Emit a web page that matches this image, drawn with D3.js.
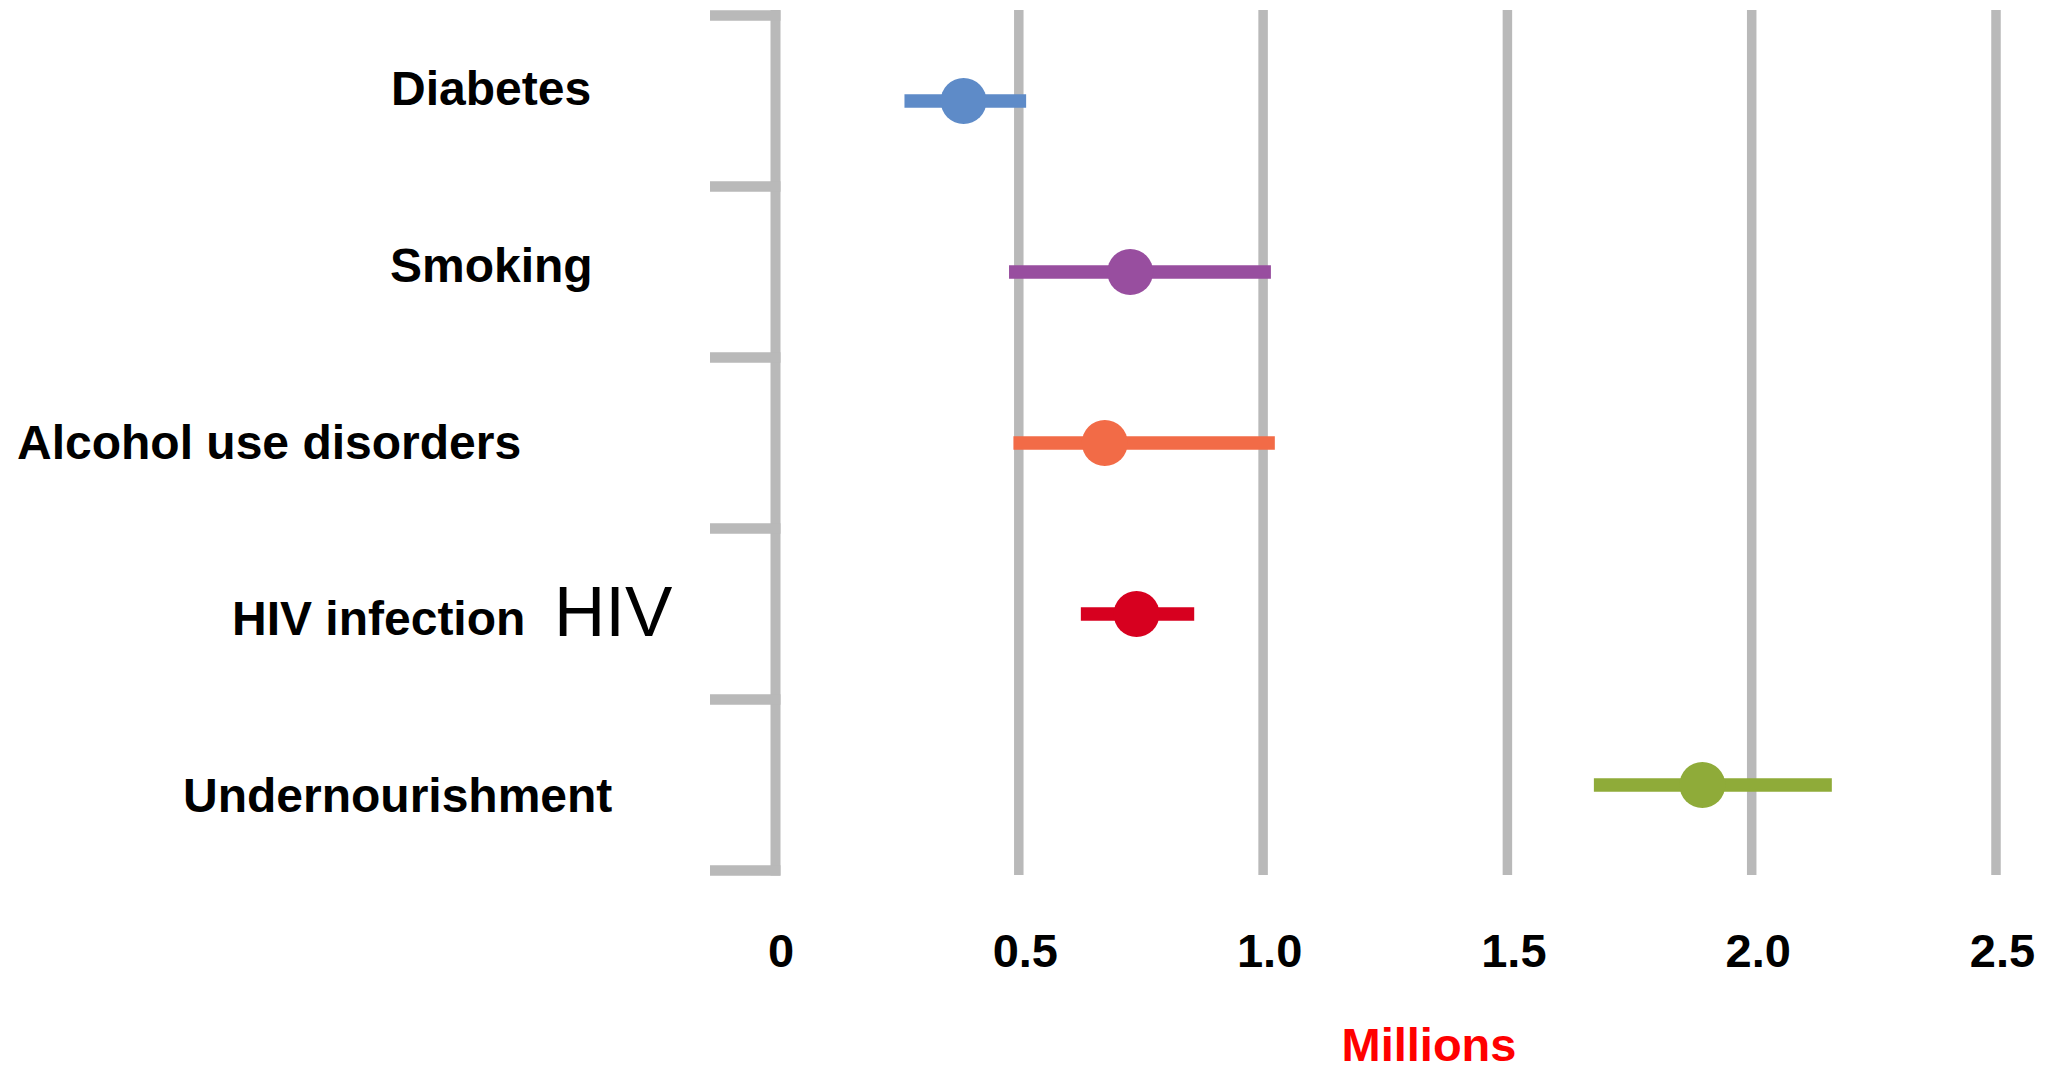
<!DOCTYPE html>
<html>
<head>
<meta charset="utf-8">
<script src="https://cdn.jsdelivr.net/npm/d3@7"></script>
<style>
  html, body { margin: 0; padding: 0; background: #ffffff; }
  svg { display: block; }
  text { font-family: "Liberation Sans", Arial, Helvetica, sans-serif; }
</style>
</head>
<body>
<svg id="chart" width="2050" height="1070"></svg>
<script>
// Risk factors and estimated attributable cases (millions): point estimate with uncertainty range
const categories = ["Diabetes", "Smoking", "Alcohol use disorders", "HIV infection", "Undernourishment"];
const estimates  = [0.387, 0.728, 0.676, 0.741, 1.899];
const lowerBound = [0.266, 0.480, 0.489, 0.627, 1.677];
const upperBound = [0.515, 1.016, 1.024, 0.859, 2.164];
const colors     = ["#5e8bc8", "#984e9f", "#f26b47", "#d7001f", "#8fab39"];
const tickValues = [0, 0.5, 1.0, 1.5, 2.0, 2.5];
const tickLabels = ["0", "0.5", "1.0", "1.5", "2.0", "2.5"];
const axisTitle  = "Millions";
const noteText   = "HIV";

// Layout
const labelLeft = { "Diabetes": 391, "Smoking": 390, "Alcohol use disorders": 17, "HIV infection": 232, "Undernourishment": 183 };
const GRID = "#b9b9b9";

const rows = categories.map((c, i) => ({
  name: c, est: estimates[i], lo: lowerBound[i], hi: upperBound[i], color: colors[i]
}));

const svg = d3.select("#chart");

const x = d3.scaleLinear().domain([0, 2.5]).range([774.5, 1996]);
const y = d3.scaleBand().domain(categories).range([15.5, 870.5]).paddingInner(0).paddingOuter(0);
const labelY = d3.scalePoint().domain(categories).range([105, 812]);

// Vertical gridlines at each non-zero tick
svg.append("g")
  .selectAll("line")
  .data(tickValues.filter(v => v > 0))
  .join("line")
  .attr("x1", d => x(d)).attr("x2", d => x(d))
  .attr("y1", 10).attr("y2", 875)
  .attr("stroke", GRID)
  .attr("stroke-width", 9.5);

// Category axis: vertical line at zero with ticks at band boundaries
const yAxis = svg.append("g");
yAxis.append("line")
  .attr("x1", x(0) + 1).attr("x2", x(0) + 1)
  .attr("y1", 10).attr("y2", 875.5)
  .attr("stroke", GRID)
  .attr("stroke-width", 10);
const boundaries = d3.range(categories.length + 1).map(i => y.range()[0] + i * y.step());
yAxis.selectAll("line.tick")
  .data(boundaries)
  .join("line")
  .attr("class", "tick")
  .attr("x1", 710).attr("x2", x(0) + 6)
  .attr("y1", d => d).attr("y2", d => d)
  .attr("stroke", GRID)
  .attr("stroke-width", 10.5);

// Category labels
svg.append("g")
  .selectAll("text")
  .data(categories)
  .join("text")
  .attr("x", d => labelLeft[d])
  .attr("y", d => labelY(d))
  .attr("font-size", 48)
  .attr("font-weight", "bold")
  .attr("fill", "#000")
  .text(d => d);

// Annotation beside the HIV row
svg.append("text")
  .attr("x", 554)
  .attr("y", 636)
  .attr("font-size", 71)
  .attr("font-weight", "normal")
  .attr("fill", "#000")
  .text(noteText);

// Uncertainty intervals and point estimates
const marks = svg.append("g")
  .selectAll("g")
  .data(rows)
  .join("g")
  .attr("transform", d => `translate(0,${y(d.name) + y.bandwidth() / 2})`);

marks.append("line")
  .attr("x1", d => x(d.lo)).attr("x2", d => x(d.hi))
  .attr("y1", 0).attr("y2", 0)
  .attr("stroke", d => d.color)
  .attr("stroke-width", 13.5)
  .attr("stroke-linecap", "butt");

marks.append("circle")
  .attr("cx", d => x(d.est))
  .attr("cy", 0)
  .attr("r", 23)
  .attr("fill", d => d.color);

// Value axis labels
const xAxis = d3.axisBottom(x)
  .tickValues(tickValues)
  .tickFormat((d, i) => tickLabels[i])
  .tickSize(0)
  .tickPadding(0);

const xg = svg.append("g")
  .attr("transform", "translate(0,967)")
  .call(xAxis);
xg.select(".domain").remove();
xg.selectAll("text")
  .attr("dy", 0)
  .attr("dx", 6)
  .attr("font-family", "\"Liberation Sans\", Arial, sans-serif")
  .attr("font-size", 47)
  .attr("font-weight", "bold")
  .attr("fill", "#000");

// Axis title
svg.append("text")
  .attr("x", 1429)
  .attr("y", 1061)
  .attr("text-anchor", "middle")
  .attr("font-size", 47)
  .attr("font-weight", "bold")
  .attr("fill", "#ff0000")
  .text(axisTitle);
</script>
</body>
</html>
